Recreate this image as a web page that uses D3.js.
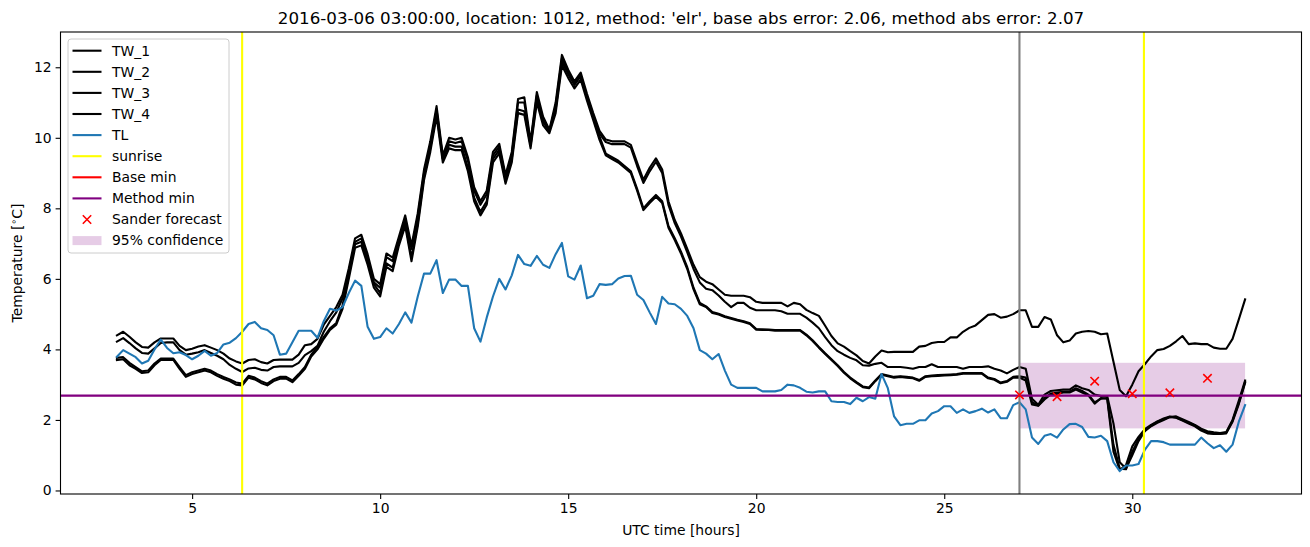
<!DOCTYPE html>
<html>
<head>
<meta charset="utf-8">
<script src="https://cdn.jsdelivr.net/npm/d3@7"></script>
<style>
  html, body { margin: 0; padding: 0; background: #fff; }
  svg { display: block; font-family: "DejaVu Sans", sans-serif; }
</style>
</head>
<body>
<svg id="chart" width="1310" height="547"></svg>
<script>
// ---------------- data ----------------
const titleText = "2016-03-06 03:00:00, location: 1012, method: 'elr', base abs error: 2.06, method abs error: 2.07";
const startHour = 3;       // first sample, UTC hours
const stepMinutes = 10;    // sampling interval
const nSamples = 181;

const TL = [
  3.79, 3.98, 3.88, 3.78, 3.60, 3.68,
  4.00, 4.28, 4.04, 3.89, 3.92, 3.84,
  3.72, 3.82, 3.96, 3.82, 3.90, 4.14,
  4.19, 4.32, 4.50, 4.72, 4.78, 4.60,
  4.55, 4.40, 3.85, 3.88, 4.20, 4.53,
  4.53, 4.53, 4.33, 4.80, 5.15, 5.10,
  5.20, 5.60, 5.95, 5.80, 4.64, 4.30,
  4.35, 4.60, 4.45, 4.72, 5.05, 4.76,
  5.50, 6.15, 6.15, 6.53, 5.60, 5.98,
  5.98, 5.80, 5.80, 4.60, 4.22, 4.90,
  5.50, 6.00, 5.70, 6.10, 6.68, 6.42,
  6.37, 6.65, 6.40, 6.31, 6.70, 7.02,
  6.07, 5.98, 6.38, 5.45, 5.52, 5.85,
  5.83, 5.85, 6.01, 6.08, 6.09, 5.55,
  5.40, 5.05, 4.72, 5.49, 5.30, 5.28,
  5.15, 4.95, 4.60, 3.98, 3.88, 3.72,
  3.87, 3.40, 3.00, 2.91, 2.91, 2.91,
  2.91, 2.81, 2.81, 2.81, 2.85, 3.00,
  2.98, 2.91, 2.80, 2.78, 2.81, 2.81,
  2.53, 2.51, 2.51, 2.45, 2.63, 2.53,
  2.65, 2.60, 3.30, 2.90, 2.10, 1.85,
  1.89, 1.89, 1.99, 1.99, 2.18, 2.25,
  2.39, 2.39, 2.20, 2.30, 2.20, 2.25,
  2.32, 2.21, 2.30, 2.05, 2.05, 2.42,
  2.50, 2.30, 1.50, 1.32, 1.55, 1.60,
  1.50, 1.73, 1.88, 1.89, 1.80, 1.52,
  1.50, 1.55, 1.40, 0.80, 0.55, 0.71,
  0.71, 0.75, 1.15, 1.40, 1.40, 1.37,
  1.30, 1.30, 1.30, 1.30, 1.30, 1.50,
  1.34, 1.20, 1.28, 1.10, 1.30, 1.95,
  2.42
];

const TW_1 = [
  4.40, 4.50, 4.36, 4.20, 4.07, 4.05,
  4.20, 4.31, 4.31, 4.31, 4.10, 3.98,
  4.02, 4.08, 4.12, 4.05, 3.98, 3.88,
  3.74, 3.66, 3.60, 3.70, 3.72, 3.64,
  3.60, 3.70, 3.71, 3.71, 3.71, 3.85,
  4.12, 4.15, 4.30, 4.70, 4.95, 5.20,
  5.55, 6.30, 7.15, 7.25, 6.70, 6.00,
  5.85, 6.72, 6.60, 7.20, 7.80, 6.95,
  7.86, 9.10, 9.90, 10.90, 9.50, 10.00,
  9.95, 10.00, 9.45, 8.60, 8.20, 8.50,
  9.60, 9.83, 8.95, 9.60, 11.10, 11.15,
  9.90, 11.30, 10.60, 10.23, 11.00, 12.35,
  11.93, 11.60, 11.85, 11.25, 10.70, 10.20,
  9.95, 9.90, 9.90, 9.90, 9.80, 9.30,
  8.81, 9.15, 9.42, 9.10, 8.20, 7.67,
  7.29, 6.85, 6.40, 6.05, 5.92, 5.85,
  5.70, 5.55, 5.52, 5.52, 5.52, 5.48,
  5.35, 5.32, 5.32, 5.32, 5.32, 5.22,
  5.32, 5.28, 5.12, 5.03, 4.95, 4.67,
  4.38, 4.17, 4.08, 3.95, 3.83, 3.67,
  3.60, 3.80, 3.97, 3.92, 3.93, 3.93,
  3.93, 3.93, 4.08, 4.10, 4.18, 4.21,
  4.21, 4.34, 4.34, 4.50, 4.61, 4.68,
  4.83, 4.98, 5.00, 4.90, 4.93, 5.00,
  5.11, 5.11, 4.64, 4.64, 4.92, 4.85,
  4.40, 4.20, 4.25, 4.45, 4.50, 4.52,
  4.50, 4.43, 4.45, 3.65, 2.85, 2.67,
  3.00, 3.38, 3.58, 3.80, 3.98, 4.01,
  4.10, 4.23, 4.38, 4.15, 4.17, 4.15,
  4.15, 4.05, 4.02, 4.02, 4.30, 4.85,
  5.42
];

const TW_2 = [
  4.22, 4.32, 4.18, 4.03, 3.90, 3.88,
  4.03, 4.18, 4.20, 4.20, 3.98, 3.85,
  3.88, 3.92, 3.98, 3.90, 3.82, 3.72,
  3.56, 3.45, 3.36, 3.46, 3.48, 3.42,
  3.40, 3.50, 3.52, 3.52, 3.52, 3.62,
  3.84, 3.95, 4.10, 4.50, 4.80, 5.05,
  5.45, 6.20, 7.05, 7.15, 6.60, 5.90,
  5.75, 6.62, 6.50, 7.10, 7.70, 6.85,
  7.76, 9.00, 9.80, 10.80, 9.42, 9.90,
  9.85, 9.90, 9.35, 8.50, 8.10, 8.40,
  9.50, 9.75, 8.87, 9.50, 11.00, 11.00,
  9.84, 11.20, 10.52, 10.20, 10.90, 12.25,
  11.85, 11.53, 11.78, 11.18, 10.62, 10.12,
  9.88, 9.82, 9.82, 9.82, 9.72, 9.20,
  8.72, 9.05, 9.32, 9.00, 8.10, 7.58,
  7.20, 6.75, 6.28, 5.90, 5.72, 5.68,
  5.53, 5.35, 5.20, 5.32, 5.32, 5.18,
  5.11, 5.11, 5.11, 5.11, 5.08, 5.01,
  5.01, 5.01, 4.90, 4.76, 4.60, 4.35,
  4.12, 3.95, 3.85, 3.76, 3.69, 3.55,
  3.54, 3.59, 3.62, 3.50, 3.50, 3.50,
  3.48, 3.45, 3.50, 3.50, 3.58, 3.50,
  3.50, 3.50, 3.50, 3.45, 3.50, 3.50,
  3.50, 3.52, 3.45, 3.40, 3.32, 3.42,
  3.50, 3.45, 2.60, 2.43, 2.72, 2.82,
  2.84, 2.86, 2.86, 2.98, 2.90, 2.85,
  2.72, 2.68, 2.68, 1.90, 0.80, 0.62,
  1.00, 1.40, 1.68, 1.82, 1.92, 2.00,
  2.08, 2.10, 2.02, 1.94, 1.86, 1.75,
  1.68, 1.65, 1.63, 1.66, 2.00, 2.55,
  3.12
];

const TW_3 = [
  3.76, 3.78, 3.62, 3.50, 3.38, 3.40,
  3.60, 3.74, 3.74, 3.74, 3.50, 3.27,
  3.35, 3.40, 3.45, 3.40, 3.30, 3.22,
  3.15, 3.06, 3.03, 3.25, 3.20, 3.10,
  3.03, 3.15, 3.22, 3.22, 3.12, 3.30,
  3.50, 3.85, 4.07, 4.35, 4.60, 4.75,
  5.25, 6.10, 6.98, 7.05, 6.50, 5.85,
  5.60, 6.44, 6.32, 7.05, 7.60, 6.60,
  7.58, 8.90, 9.70, 10.70, 9.40, 9.80,
  9.75, 9.75, 9.15, 8.30, 7.90, 8.20,
  9.40, 9.66, 8.80, 9.40, 10.80, 10.75,
  9.78, 11.10, 10.45, 10.18, 10.80, 12.15,
  11.80, 11.50, 11.75, 11.15, 10.60, 10.04,
  9.55, 9.45, 9.35, 9.20, 9.05, 8.55,
  8.00, 8.20, 8.38, 8.20, 7.50, 7.15,
  6.77, 6.33, 5.75, 5.32, 5.22, 5.06,
  5.01, 4.94, 4.89, 4.84, 4.80, 4.74,
  4.58, 4.57, 4.56, 4.55, 4.55, 4.55,
  4.55, 4.55, 4.42, 4.26, 4.07, 3.89,
  3.72, 3.55, 3.36, 3.20, 3.07, 2.95,
  2.92, 3.12, 3.30, 3.26, 3.22, 3.24,
  3.22, 3.20, 3.13, 3.24, 3.26, 3.27,
  3.28, 3.29, 3.30, 3.33, 3.33, 3.33,
  3.33, 3.20, 3.16, 3.06, 3.10, 3.22,
  3.24, 3.20, 2.50, 2.41, 2.62, 2.75,
  2.78, 2.80, 2.80, 2.90, 2.82, 2.72,
  2.50, 2.60, 2.62, 1.30, 0.62, 0.60,
  1.10, 1.45, 1.70, 1.84, 1.95, 2.02,
  2.08, 2.07, 2.00, 1.92, 1.84, 1.72,
  1.64, 1.62, 1.61, 1.64, 1.98, 2.48,
  3.08
];

const TW_4 = [
  3.70, 3.72, 3.55, 3.45, 3.33, 3.35,
  3.55, 3.70, 3.70, 3.70, 3.45, 3.22,
  3.30, 3.35, 3.40, 3.35, 3.25, 3.17,
  3.10, 3.00, 2.98, 3.20, 3.15, 3.05,
  2.98, 3.10, 3.17, 3.17, 3.07, 3.25,
  3.45, 3.80, 4.00, 4.30, 4.55, 4.70,
  5.15, 6.00, 6.88, 6.95, 6.40, 5.75,
  5.50, 6.34, 6.22, 6.95, 7.50, 6.50,
  7.48, 8.80, 9.60, 10.60, 9.30, 9.70,
  9.65, 9.65, 9.05, 8.20, 7.80, 8.10,
  9.30, 9.56, 8.70, 9.30, 10.70, 10.65,
  9.70, 11.00, 10.35, 10.13, 10.70, 12.05,
  11.70, 11.40, 11.65, 11.05, 10.50, 9.94,
  9.50, 9.40, 9.30, 9.15, 9.00, 8.50,
  7.95, 8.15, 8.33, 8.15, 7.45, 7.10,
  6.72, 6.28, 5.70, 5.28, 5.20, 5.03,
  4.99, 4.92, 4.87, 4.82, 4.78, 4.72,
  4.56, 4.55, 4.55, 4.53, 4.53, 4.53,
  4.53, 4.53, 4.40, 4.24, 4.05, 3.87,
  3.70, 3.53, 3.34, 3.18, 3.05, 2.93,
  2.90, 3.10, 3.28, 3.24, 3.20, 3.22,
  3.20, 3.18, 3.11, 3.22, 3.24, 3.25,
  3.26, 3.27, 3.28, 3.31, 3.31, 3.31,
  3.31, 3.18, 3.14, 3.04, 3.08, 3.20,
  3.20, 3.12, 2.44, 2.40, 2.58, 2.72,
  2.74, 2.78, 2.78, 2.86, 2.78, 2.70,
  2.46, 2.62, 2.60, 1.10, 0.58, 0.72,
  1.25, 1.52, 1.74, 1.86, 1.96, 2.04,
  2.10, 2.06, 1.98, 1.90, 1.82, 1.70,
  1.62, 1.60, 1.60, 1.62, 1.95, 2.45,
  3.05
];

const sunriseHours = [6.33, 30.31];
const forecastHour = 27.0;
const baseMin = 2.69;
const methodMin = 2.69;
const sanderHours = [27, 28, 29, 30, 31, 32];
const sanderValues = [2.71, 2.66, 3.10, 2.74, 2.77, 3.18];
const confHours = [27, 33];
const confLow = 1.76;
const confHigh = 3.62;

const xTicks = [5, 10, 15, 20, 25, 30];
const yTicks = [0, 2, 4, 6, 8, 10, 12];
const xDomain = [1.5, 34.5];
const yDomain = [-0.1, 13.0];

const legendItems = [
  {label: "TW_1", type: "line", color: "#000000"},
  {label: "TW_2", type: "line", color: "#000000"},
  {label: "TW_3", type: "line", color: "#000000"},
  {label: "TW_4", type: "line", color: "#000000"},
  {label: "TL", type: "line", color: "#1f77b4"},
  {label: "sunrise", type: "line", color: "#ffff00"},
  {label: "Base min", type: "line", color: "#ff0000"},
  {label: "Method min", type: "line", color: "#800080"},
  {label: "Sander forecast", type: "marker", color: "#ff0000"},
  {label: "95% confidence", type: "patch", color: "#800080"}
];

// ---------------- chart ----------------
const hours = d3.range(nSamples).map(i => startHour + i * stepMinutes / 60);
const svg = d3.select("#chart");
const L = 60.5, R = 1301.5, T = 32, B = 494;
const x = d3.scaleLinear().domain(xDomain).range([L, R]);
const y = d3.scaleLinear().domain(yDomain).range([B, T]);
const fs = "13.9px";

svg.append("defs").append("clipPath").attr("id", "clip")
  .append("rect").attr("x", L).attr("y", T).attr("width", R - L).attr("height", B - T);

const plot = svg.append("g").attr("clip-path", "url(#clip)");

// confidence band
plot.append("rect")
  .attr("x", x(confHours[0])).attr("width", x(confHours[1]) - x(confHours[0]))
  .attr("y", y(confHigh)).attr("height", y(confLow) - y(confHigh))
  .attr("fill", "#800080").attr("fill-opacity", 0.2);

const line = d3.line().x((d, i) => x(hours[i])).y(d => y(d));

[TW_1, TW_2, TW_3, TW_4].forEach(s => {
  plot.append("path").datum(s).attr("d", line)
    .attr("fill", "none").attr("stroke", "#000").attr("stroke-width", 2.1)
    .attr("stroke-linejoin", "round").attr("stroke-linecap", "square");
});
plot.append("path").datum(TL).attr("d", line)
  .attr("fill", "none").attr("stroke", "#1f77b4").attr("stroke-width", 2.1)
  .attr("stroke-linejoin", "round").attr("stroke-linecap", "square");

// sunrise lines
sunriseHours.forEach(h => {
  plot.append("line").attr("x1", x(h)).attr("x2", x(h)).attr("y1", T).attr("y2", B)
    .attr("stroke", "#ffff00").attr("stroke-width", 2.1);
});
// forecast time
plot.append("line").attr("x1", x(forecastHour)).attr("x2", x(forecastHour)).attr("y1", T).attr("y2", B)
  .attr("stroke", "#808080").attr("stroke-width", 2.1);
// base / method min (method min drawn on top and hides base min)
plot.append("line").attr("x1", L).attr("x2", R).attr("y1", y(baseMin)).attr("y2", y(baseMin))
  .attr("stroke", "#ff0000").attr("stroke-width", 1.0);
plot.append("line").attr("x1", L).attr("x2", R).attr("y1", y(methodMin)).attr("y2", y(methodMin))
  .attr("stroke", "#800080").attr("stroke-width", 2.1);

// sander forecast markers
function xMarker(g, cx, cy, color) {
  const s = 4.2;
  g.append("path").attr("d", `M${cx - s},${cy - s}L${cx + s},${cy + s}M${cx - s},${cy + s}L${cx + s},${cy - s}`)
    .attr("stroke", color).attr("stroke-width", 1.6).attr("fill", "none");
}
sanderHours.forEach((h, i) => xMarker(plot, x(h), y(sanderValues[i]), "#ff0000"));

// frame
svg.append("rect").attr("x", L).attr("y", T).attr("width", R - L).attr("height", B - T)
  .attr("fill", "none").attr("stroke", "#000").attr("stroke-width", 1.1);

// axes
const xAxis = svg.append("g").attr("transform", `translate(0,${B})`)
  .call(d3.axisBottom(x).tickValues(xTicks).tickSize(4.9).tickPadding(4).tickFormat(d3.format("d")));
const yAxis = svg.append("g").attr("transform", `translate(${L},0)`)
  .call(d3.axisLeft(y).tickValues(yTicks).tickSize(4.9).tickPadding(4).tickFormat(d3.format("d")));
[xAxis, yAxis].forEach(a => {
  a.select(".domain").remove();
  a.selectAll("line").attr("stroke", "#000").attr("stroke-width", 1.1);
  a.selectAll("text").attr("font-size", fs).attr("fill", "#000").attr("font-family", "DejaVu Sans, sans-serif");
});

// title and labels
svg.append("text").attr("x", (L + R) / 2).attr("y", 24).attr("text-anchor", "middle")
  .attr("font-size", "16.7px").attr("fill", "#000").text(titleText);
svg.append("text").attr("x", (L + R) / 2).attr("y", 535).attr("text-anchor", "middle")
  .attr("font-size", fs).attr("fill", "#000").text("UTC time [hours]");
const yl = svg.append("text").attr("transform", `translate(22,${(T + B) / 2}) rotate(-90)`)
  .attr("text-anchor", "middle").attr("font-size", fs).attr("fill", "#000");
yl.append("tspan").text("Temperature [");
yl.append("tspan").attr("font-size", "9.5px").attr("dy", "-5").text("\u2218");
yl.append("tspan").attr("dy", "5").text("C]");

// legend
const lg = svg.append("g");
lg.append("rect").attr("x", 68).attr("y", 39).attr("width", 161).attr("height", 214)
  .attr("rx", 3).attr("fill", "#fff").attr("fill-opacity", 0.8)
  .attr("stroke", "#cccccc").attr("stroke-width", 1);
legendItems.forEach((it, i) => {
  const cy = 50.7 + i * 21.1;
  if (it.type === "line") {
    lg.append("line").attr("x1", 72.5).attr("x2", 101.5).attr("y1", cy).attr("y2", cy)
      .attr("stroke", it.color).attr("stroke-width", 2.1);
  } else if (it.type === "marker") {
    xMarker(lg, 87, cy, it.color);
  } else {
    lg.append("rect").attr("x", 72.5).attr("y", cy - 4.5).attr("width", 29).attr("height", 9)
      .attr("fill", it.color).attr("fill-opacity", 0.2);
  }
  lg.append("text").attr("x", 112).attr("y", cy).attr("dy", "0.35em")
    .attr("font-size", fs).attr("fill", "#000").text(it.label);
});
</script>
</body>
</html>
